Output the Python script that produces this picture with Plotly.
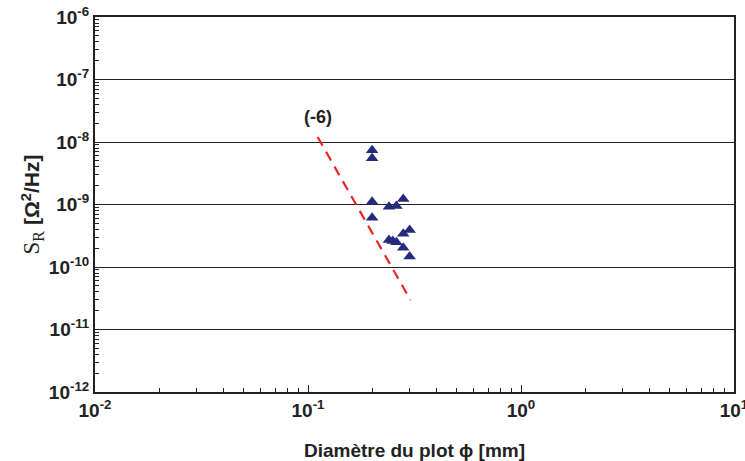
import plotly.graph_objects as go

# Measured data (diameter in mm, S_R in Ohm^2/Hz)
diam_mm = [0.20, 0.20, 0.20, 0.20, 0.24, 0.26, 0.28, 0.24, 0.25, 0.26, 0.28, 0.30, 0.28, 0.30]
s_r = [7.4e-9, 5.5e-9, 1.11e-9, 6.15e-10, 9.2e-10, 9.5e-10, 1.22e-9,
       2.7e-10, 2.6e-10, 2.5e-10, 3.4e-10, 3.9e-10, 2.04e-10, 1.47e-10]

# Slope (-6) reference line
fit_x = [0.111, 0.303]
fit_y = [1.2e-8, 2.95e-11]
slope_label = "(-6)"

x_tickvals = [0.01, 0.1, 1, 10]
x_ticktext = ["10<sup>-2</sup>", "10<sup>-1</sup>", "10<sup>0</sup>", "10<sup>1</sup>"]
y_decades = [-12, -11, -10, -9, -8, -7, -6]
y_tickvals = [10.0 ** e for e in y_decades]
y_ticktext = ["10<sup>%d</sup>" % e for e in y_decades]
# all y tick positions: labelled decades + unlabelled 2..9 sub-ticks
y_all_vals = y_tickvals + [m * 10.0 ** e for e in y_decades[:-1] for m in range(2, 10)]
y_all_text = y_ticktext + [""] * (len(y_all_vals) - len(y_tickvals))

FONT = "Liberation Sans, Arial, sans-serif"
INK = "#222222"

fig = go.Figure()
fig.add_trace(go.Scatter(
    x=fit_x, y=fit_y, mode="lines",
    line=dict(color="#ee2424", width=2.2, dash="10px,7px"),
    showlegend=False, hoverinfo="skip"))
fig.add_trace(go.Scatter(
    x=diam_mm, y=s_r, mode="markers",
    marker=dict(symbol="triangle-up", size=11, color="#262a7c"),
    showlegend=False))
# invisible copy of the data on the overlay axis that carries the decade grid lines
fig.add_trace(go.Scatter(
    x=diam_mm, y=s_r, mode="markers", xaxis="x", yaxis="y2",
    marker=dict(size=1, opacity=0), showlegend=False, hoverinfo="skip"))

fig.add_annotation(x=-0.952, y=-7.6, xref="x", yref="y", text="<b>" + slope_label + "</b>",
                   showarrow=False, font=dict(family=FONT, size=18, color=INK))

fig.update_layout(
    width=745, height=461,
    margin=dict(l=95, r=11, t=17, b=69),
    paper_bgcolor="white", plot_bgcolor="white",
    font=dict(family=FONT, color=INK),
    xaxis=dict(
        type="log", range=[-2, 1], automargin=False, ticklabeloverflow="allow",
        tickvals=x_tickvals, ticktext=x_ticktext,
        tickfont=dict(family=FONT, size=19, color=INK, weight="bold"),
        showgrid=False, zeroline=False,
        showline=True, linecolor=INK, linewidth=2, mirror=True,
        ticks="inside", ticklen=7, tickcolor=INK, tickwidth=1,
        minor=dict(ticks="inside", ticklen=4, tickcolor=INK, dtick="D1", showgrid=False),
        title=dict(text="<b>Diamètre du plot ϕ [mm]</b>", font=dict(family=FONT, size=19, color=INK), standoff=24),
    ),
    yaxis=dict(
        type="log", range=[-12, -6], automargin=False, ticklabeloverflow="allow",
        tickmode="array", tickvals=y_all_vals, ticktext=y_all_text,
        tickfont=dict(family=FONT, size=19, color=INK, weight="bold"),
        showgrid=False, zeroline=False,
        showline=True, linecolor=INK, linewidth=2, mirror=True,
        ticks="inside", ticklen=4, tickcolor=INK, tickwidth=1,
        title=dict(text="<span style=\"font-family:Liberation Serif;font-weight:normal;font-size:23px\">S<sub>R</sub></span> <b>[Ω<sup>2</sup>/Hz]</b>",
                   font=dict(family=FONT, size=21, color=INK), standoff=3),
    ),
    yaxis2=dict(
        type="log", range=[-12, -6], overlaying="y", anchor="x", side="left", automargin=False,
        tickmode="array", tickvals=y_tickvals, showticklabels=False, ticks="",
        showgrid=True, gridcolor=INK, gridwidth=1,
        zeroline=False, showline=False,
    ),
)

fig.write_html("out.html", config={"displayModeBar": False},
               post_script="document.body.style.margin='0';")
